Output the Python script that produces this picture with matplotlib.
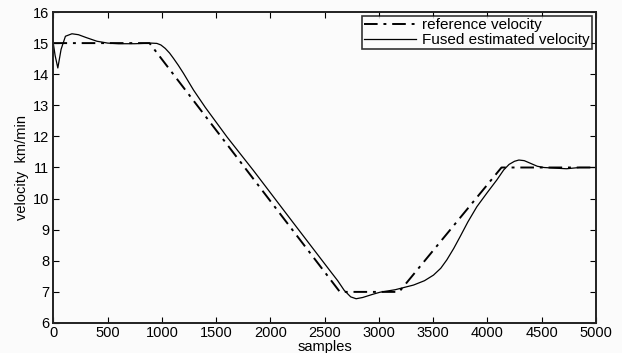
import matplotlib
matplotlib.use("Agg")
import matplotlib.pyplot as plt
import numpy as np

# Reference velocity (piecewise)
ref_x = [0, 885, 2640, 3186, 4130, 5000]
ref_y = [15, 15, 7, 7, 11, 11]

# Fused estimated velocity
fus_x = [0, 15, 40, 70, 110, 170, 230, 300, 400, 500, 600, 750, 900, 953, 990, 1030, 1070,
         1106, 1150, 1198, 1291, 1400, 1600, 1844, 2200, 2560, 2620, 2680, 2740, 2790,
         2850, 2950, 3011, 3150, 3319, 3420, 3503, 3570, 3626, 3690, 3749, 3820, 3903,
         4000, 4087, 4150, 4200, 4250, 4290, 4340, 4400, 4460, 4520, 4620, 4730, 4850, 5000]
fus_y = [14.95, 14.6, 14.2, 14.8, 15.22, 15.3, 15.27, 15.18, 15.06, 15.0, 14.98, 14.98, 15.0,
         14.99, 14.94, 14.83, 14.68, 14.51, 14.29, 14.03, 13.49, 12.93, 11.98, 10.9, 9.27,
         7.63, 7.36, 7.05, 6.84, 6.78, 6.82, 6.93, 6.99, 7.07, 7.22, 7.36, 7.54, 7.76, 8.03,
         8.4, 8.78, 9.25, 9.74, 10.2, 10.6, 10.92, 11.1, 11.2, 11.24, 11.22, 11.13, 11.04,
         11.0, 10.98, 10.96, 11.0, 11.0]

xticks = [0, 500, 1000, 1500, 2000, 2500, 3000, 3500, 4000, 4500, 5000]
yticks = [6, 7, 8, 9, 10, 11, 12, 13, 14, 15, 16]

plt.rcParams['font.family'] = ['Liberation Sans', 'DejaVu Sans']

fig = plt.figure(figsize=(6.22, 3.53), dpi=100)
fig.patch.set_facecolor('#fbfbfb')
ax = fig.add_axes([0.086, 0.085, 0.872, 0.881])
ax.set_facecolor('#fbfbfb')

ax.plot(ref_x, ref_y, color='black', linewidth=1.4,
        linestyle=(0, (7, 3, 1.5, 3)), label='reference velocity')
ax.plot(fus_x, fus_y, color='black', linewidth=0.9, label='Fused estimated velocity')

ax.set_xlim(0, 5000)
ax.set_ylim(6, 16)
ax.set_xticks(xticks)
ax.set_yticks(yticks)
ax.tick_params(direction='in', top=True, right=True, length=4, width=0.8,
               labelsize=10.5)
ax.tick_params(axis='x', pad=2)
ax.tick_params(axis='y', pad=3)
for s in ax.spines.values():
    s.set_linewidth(1.4)
    s.set_color('#222222')

ax.set_xlabel('samples', fontsize=10.5, va='center')
ax.xaxis.set_label_coords(0.5, -0.076)
ax.set_ylabel('velocity  km/min', fontsize=10.5, labelpad=3)

leg = ax.legend(loc='upper right', fontsize=11, frameon=True, fancybox=False,
                edgecolor='black', handlelength=3.4, borderpad=0.15,
                labelspacing=0.05, handletextpad=0.4, borderaxespad=0.25)
leg.get_frame().set_linewidth(1.2)
leg.get_frame().set_facecolor('#fbfbfb')

fig.savefig('out.png', dpi=100, facecolor=fig.get_facecolor())
